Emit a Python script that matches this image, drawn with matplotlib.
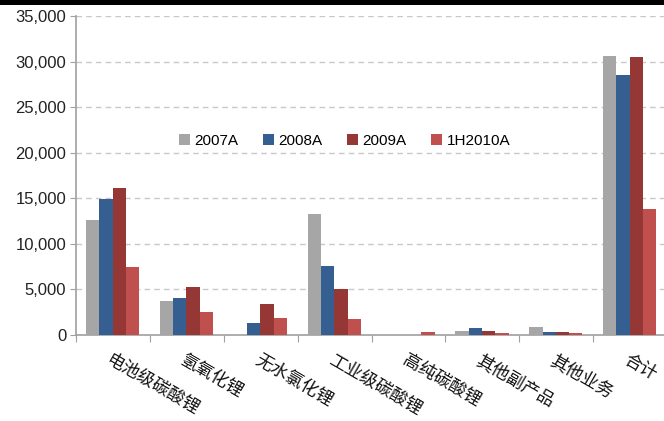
import matplotlib
matplotlib.use("Agg")
import matplotlib.pyplot as plt
from matplotlib.patches import Rectangle
import numpy as np

categories = ["电池级碳酸锂", "氢氧化锂", "无水氯化锂", "工业级碳酸锂",
              "高纯碳酸锂", "其他副产品", "其他业务", "合计"]
series_names = ["2007A", "2008A", "2009A", "1H2010A"]
v2007 = [12600, 3700, 0, 13300, 0, 450, 900, 30600]
v2008 = [14900, 4050, 1300, 7550, 0, 800, 350, 28550]
v2009 = [16100, 5250, 3400, 5000, 0, 450, 350, 30500]
v1h2010 = [7450, 2500, 1850, 1750, 350, 250, 250, 13850]
colors = ["#A6A6A6", "#355E91", "#953735", "#C0504D"]
y_ticks = [0, 5000, 10000, 15000, 20000, 25000, 30000, 35000]

plt.rcParams["font.family"] = ["Liberation Sans", "DejaVu Sans"]

fig = plt.figure(figsize=(6.64, 4.21), dpi=100)
ax = fig.add_axes([76 / 664, 1 - 335 / 421, (667 - 76) / 664, (335 - 16) / 421])

# top black band
fig.patches.append(Rectangle((0, 1 - 5 / 421), 1, 5 / 421, transform=fig.transFigure,
                             facecolor="black", edgecolor="none", zorder=10))

x = np.arange(len(categories))
w = 0.18
start = -0.5 + 10 / 74
for i, vals in enumerate([v2007, v2008, v2009, v1h2010]):
    ax.bar(x + start + w * (i + 0.5), vals, width=w, color=colors[i],
           label=series_names[i], zorder=3)

ax.set_xlim(-0.5, len(categories) - 0.5)
ax.set_ylim(0, 35000)
ax.set_yticks(y_ticks)
ax.set_yticklabels([f"{t:,}" for t in y_ticks], fontsize=12, color="#222222")
ax.yaxis.grid(True, linestyle=(0, (4, 3)), color="#C8C8C8", linewidth=1, zorder=0)

# category boundary ticks
ax.set_xticks(np.arange(len(categories) + 1) - 0.5)
ax.set_xticklabels([])
ax.tick_params(axis="x", length=5, color="#A0A0A0", direction="out")
ax.tick_params(axis="y", length=4, color="#A0A0A0", direction="out", pad=3)

for i, c in enumerate(categories):
    ax.text(i + 0.0, -0.05, c, transform=ax.get_xaxis_transform(), rotation=-30,
            rotation_mode="anchor", ha="left", va="top", fontsize=12.5,
            family=["Noto Sans CJK SC", "DejaVu Sans"], fontweight="light",
            color="#111111")

for s in ["top", "right"]:
    ax.spines[s].set_visible(False)
for s in ["left", "bottom"]:
    ax.spines[s].set_color("#A0A0A0")
    ax.spines[s].set_linewidth(1.2)

leg = ax.legend(loc="upper left", bbox_to_anchor=(97 / 591, 1 - (128 - 16) / 319),
                ncol=4, frameon=False, fontsize=11, handlelength=0.7, handleheight=0.7,
                handletextpad=0.3, columnspacing=1.62, borderaxespad=0)

fig.savefig("out.png", dpi=100)
